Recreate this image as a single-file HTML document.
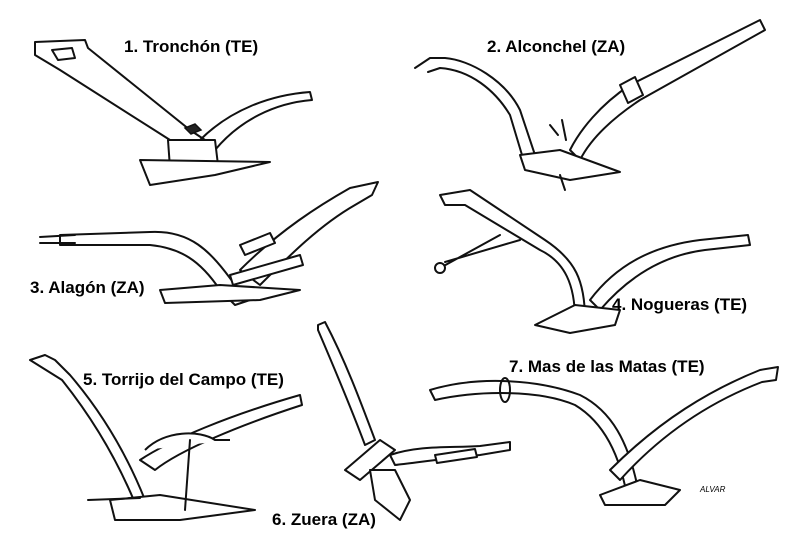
<!DOCTYPE html>
<html><head><meta charset="utf-8"><style>
html,body{margin:0;padding:0;background:#fff;}
svg{display:block}
text{font-family:"Liberation Sans",sans-serif;font-weight:bold;font-size:17px;fill:#000}
.s{fill:none;stroke:#111;stroke-width:2;stroke-linejoin:round;stroke-linecap:round}
.f{fill:#fff;stroke:#111;stroke-width:2;stroke-linejoin:round}
.d{fill:#222;stroke:#111;stroke-width:1.5}
</style></head><body>
<svg width="800" height="550" viewBox="0 0 800 550">
<!-- 1 Tronchon -->
<path class="f" d="M35 42 L85 40 L88 48 L190 130 L205 140 L185 150 L170 140 L60 70 L35 55 Z"/>
<path class="f" d="M52 50 L72 48 L75 58 L58 60 Z"/>
<path class="s" d="M200 140 C230 110 270 95 310 92 L312 100 C275 103 240 120 215 150"/>
<path class="f" d="M168 140 L215 140 L218 165 L170 168 Z"/>
<path class="f" d="M140 160 L270 162 L215 175 L150 185 Z"/>
<path class="d" d="M185 128 l10 -4 l6 6 l-10 4 z"/>
<text x="124" y="52">1. Tronchón (TE)</text>
<!-- 2 Alconchel -->
<path class="s" d="M415 68 L430 58 L445 58 C470 60 505 80 520 110 L535 155 L525 165 L510 115 C495 90 470 70 440 68 L428 72"/>
<path class="f" d="M570 150 C580 130 600 105 630 85 L760 20 L765 30 L640 100 C610 120 590 140 580 160 Z"/>
<path class="f" d="M620 85 l15 -8 l8 18 l-15 8 z"/>
<path class="f" d="M520 155 L560 150 L620 172 L570 180 L525 170 Z"/>
<path class="s" d="M550 125 l8 10 M562 120 l4 20"/>
<path class="s" d="M560 175 l5 15"/>
<text x="487" y="52">2. Alconchel (ZA)</text>
<!-- 3 Alagon -->
<path class="f" d="M60 235 L150 232 C190 230 210 250 235 285 L250 300 L235 305 L220 290 C200 260 180 248 150 245 L60 245 Z"/>
<path class="s" d="M40 237 L75 235 M40 243 L75 243"/>
<path class="f" d="M240 270 C280 230 320 205 350 188 L378 182 L372 195 L355 205 C320 225 290 255 260 285 Z"/>
<path class="f" d="M160 290 L220 285 L300 290 L260 300 L165 303 Z"/>
<path class="f" d="M240 245 l30 -12 l5 10 l-30 12 z"/>
<path class="f" d="M230 275 l70 -20 l3 10 l-70 20 z"/>
<text x="30" y="293">3. Alagón (ZA)</text>
<!-- 4 Nogueras -->
<path class="f" d="M440 195 L470 190 L545 240 C575 260 585 280 585 320 L575 320 C575 285 565 262 540 250 L465 205 L445 205 Z"/>
<path class="s" d="M440 268 L500 235 M445 262 L520 240"/>
<circle class="f" cx="440" cy="268" r="5"/>
<path class="f" d="M590 300 C620 260 660 245 700 240 L748 235 L750 245 L705 250 C665 255 630 275 600 310 Z"/>
<path class="f" d="M535 325 L575 305 L620 310 L615 325 L570 333 Z"/>
<text x="612" y="310">4. Nogueras (TE)</text>
<!-- 5 Torrijo -->
<path class="f" d="M30 360 L45 355 L55 360 L70 375 C100 410 125 450 145 500 L135 503 C115 455 90 415 62 380 L38 365 Z"/>
<path class="f" d="M140 460 C170 440 230 415 300 395 L302 405 C240 425 180 450 155 470 Z"/>
<path class="f" d="M145 450 C165 430 200 430 215 440 L230 440"/>
<path class="f" d="M110 500 L160 495 L255 510 L180 520 L115 520 Z"/>
<path class="s" d="M88 500 L140 498 M190 440 L185 510"/>
<text x="83" y="385">5. Torrijo del Campo (TE)</text>
<!-- 6 Zuera -->
<path class="f" d="M318 325 L325 322 C345 360 360 400 375 440 L365 445 C350 405 333 365 318 330 Z"/>
<path class="f" d="M345 470 L380 440 L395 450 L360 480 Z"/>
<path class="f" d="M370 470 L395 470 L410 500 L400 520 L375 500 Z"/>
<path class="f" d="M390 455 C420 445 450 448 480 446 L510 442 L510 450 L480 455 C450 458 420 462 395 465 Z"/>
<path class="f" d="M435 455 l40 -6 l2 8 l-40 6 z"/>
<text x="272" y="525">6. Zuera (ZA)</text>
<!-- 7 Mas de las Matas -->
<path class="f" d="M430 390 C480 375 540 380 580 395 C610 410 630 440 640 500 L628 502 C620 450 600 420 575 405 C540 390 480 390 435 400 Z"/>
<path class="f" d="M610 470 C660 420 710 390 760 370 L778 367 L776 380 L762 382 C715 400 665 430 620 480 Z"/>
<path class="f" d="M600 495 L640 480 L680 490 L665 505 L605 505 Z"/>
<ellipse class="s" cx="505" cy="390" rx="5" ry="12"/>
<text x="509" y="372">7. Mas de las Matas (TE)</text>
<text x="700" y="492" style="font-size:8px;font-weight:normal;font-style:italic">ALVAR</text>
</svg>
</body></html>
